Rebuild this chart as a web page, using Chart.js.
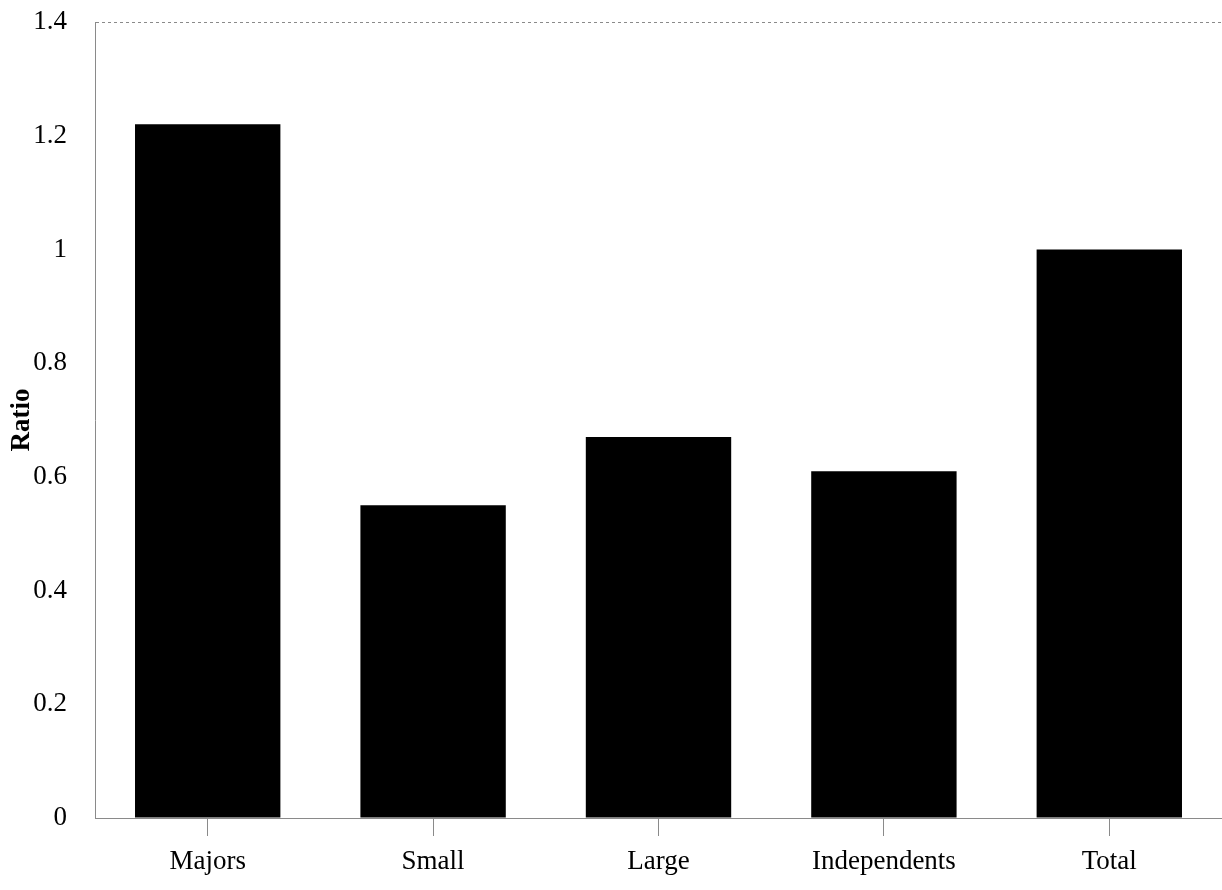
<!DOCTYPE html>
<html>
<head>
<meta charset="utf-8">
<script src="https://cdn.jsdelivr.net/npm/chart.js@4/dist/chart.umd.min.js"></script>
<style>
  html, body { margin: 0; padding: 0; background: #fff; }
  #wrap { width: 1222px; height: 890px; }
</style>
</head>
<body>
<div id="wrap"><canvas id="ratioChart" width="1222" height="890"></canvas></div>
<script>
// chart data
const categories = ["Majors", "Small", "Large", "Independents", "Total"];
const ratioValues = [1.22, 0.55, 0.67, 0.61, 1.0];
const yTicks = [0, 0.2, 0.4, 0.6, 0.8, 1, 1.2, 1.4];

const axisGrey = "#8a8a8a";
const serif = "'Liberation Serif', 'Times New Roman', serif";

new Chart(document.getElementById("ratioChart"), {
    type: "bar",
    data: {
        labels: categories,
        datasets: [{
            label: "Ratio",
            data: ratioValues,
            backgroundColor: "#000",
            borderWidth: 0,
            categoryPercentage: 1,
            barPercentage: 0.645
        }]
    },
    options: {
        responsive: false,
        animation: false,
        layout: { padding: { top: 22, right: 0, left: 6, bottom: 0 } },
        plugins: {
            legend: { display: false },
            tooltip: { enabled: false }
        },
        scales: {
            x: {
                border: { color: axisGrey, width: 1, dash: [8, 2] },
                grid: {
                    offset: false,
                    drawOnChartArea: false,
                    color: axisGrey,
                    tickLength: 18
                },
                ticks: {
                    color: "#000",
                    padding: 10,
                    font: { family: serif, size: 27 }
                },
                afterFit: (scale) => { scale.height = 72; }
            },
            y: {
                min: 0,
                max: 1.4,
                afterBuildTicks: (axis) => {
                    axis.ticks = yTicks.map(v => ({ value: v }));
                },
                border: { color: axisGrey, width: 1, dash: [3, 3] },
                grid: {
                    drawTicks: false,
                    color: (ctx) => ctx.tick && ctx.tick.value === 1.4 ? axisGrey : "rgba(0,0,0,0)"
                },
                ticks: {
                    color: "#000",
                    padding: 28,
                    font: { family: serif, size: 27 },
                    callback: (v) => String(v)
                },
                title: {
                    display: true,
                    text: "Ratio",
                    color: "#000",
                    padding: { top: 0, bottom: 0 },
                    font: { family: serif, size: 27, weight: "bold" }
                },
                afterFit: (scale) => {
                    scale.width = 89;
                    scale.paddingTop = 0;
                    scale.paddingBottom = 0;
                }
            }
        }
    }
});
</script>
</body>
</html>
